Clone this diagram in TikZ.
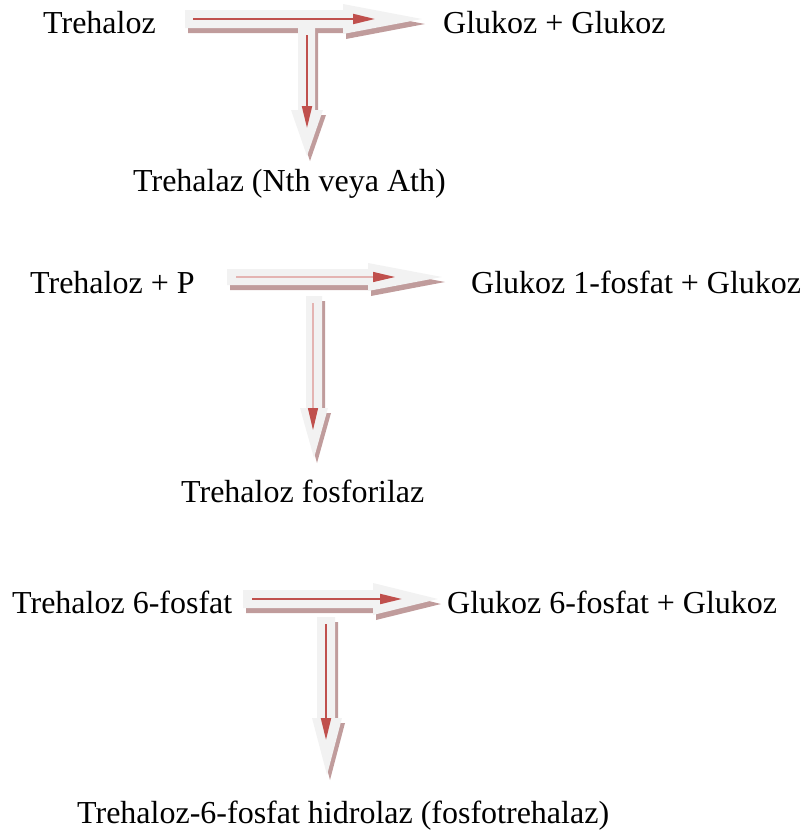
\documentclass[tikz,border=0pt]{standalone}
\usepackage{fontspec}
\setmainfont{Liberation Serif}
\usetikzlibrary{arrows.meta}
\definecolor{bodyc}{RGB}{242,242,242}
\definecolor{shadc}{RGB}{192,156,156}
\definecolor{redc}{RGB}{192,80,77}
\definecolor{pinkc}{RGB}{228,180,178}
\tikzset{
  lbl/.style={anchor=base west, inner sep=0pt, font=\fontsize{32}{38}\selectfont},
  bodyfill/.style={fill=bodyc},
  shadowfill/.style={fill=shadc, shift={(3,5)}},
  redarrow/.style={draw=redc, line width=2pt, -{Triangle[length=22pt,width=10pt]}},
  pinkarrow/.style={draw=pinkc, line width=1.2pt, -{Triangle[length=22pt,width=10pt,color=redc,fill=redc]}}
}
% horizontal block arrow: L, T, B, Hbase, HT, HB, tipx, tipy
\newcommand{\myHshape}[8]{(#1,#2) -- (#4,#2) -- (#4,#5) -- (#7,#8) -- (#4,#6) -- (#4,#3) -- (#1,#3) -- cycle}
% vertical block arrow: Lx, Rx, Top, Hbase, HL, HR, tipx, tipy
\newcommand{\myVshape}[8]{(#1,#3) -- (#2,#3) -- (#2,#4) -- (#6,#4) -- (#7,#8) -- (#5,#4) -- (#1,#4) -- cycle}
\begin{document}
\begin{tikzpicture}[x=1pt,y=-1pt]
\useasboundingbox (0,0) rectangle (806,833);
% ---- block arrows: shadows
\fill[shadowfill] \myHshape{185}{10}{28}{343}{4}{34}{422}{19};
\fill[shadowfill] \myVshape{298}{315}{20}{110}{291}{323}{307}{156};
\fill[shadowfill] \myHshape{227}{269}{285}{368}{263}{291}{442}{277};
\fill[shadowfill] \myVshape{306}{322}{296}{408}{300}{328}{314}{458};
\fill[shadowfill] \myHshape{243}{590}{608}{373}{583}{615}{438}{599};
\fill[shadowfill] \myVshape{317}{335}{617}{718}{312}{342}{327}{775};
% ---- block arrows: bodies
\fill[bodyfill] \myHshape{185}{10}{28}{343}{4}{34}{422}{19};
\fill[bodyfill] \myVshape{298}{315}{20}{110}{291}{323}{307}{156};
\fill[bodyfill] \myHshape{227}{269}{285}{368}{263}{291}{442}{277};
\fill[bodyfill] \myVshape{306}{322}{296}{408}{300}{328}{314}{458};
\fill[bodyfill] \myHshape{243}{590}{608}{373}{583}{615}{438}{599};
\fill[bodyfill] \myVshape{317}{335}{617}{718}{312}{342}{327}{775};
% ---- labels
\node[lbl] (s1) at (43,33) {Trehaloz};
\node[lbl] (p1) at (443,33) {Glukoz + Glukoz};
\node[lbl] (e1) at (133,191) {Trehalaz (Nth veya Ath)};
\node[lbl] (s2) at (30,293) {Trehaloz + P};
\node[lbl] (p2) at (471,293) {Glukoz 1-fosfat + Glukoz};
\node[lbl] (e2) at (181,502) {Trehaloz fosforilaz};
\node[lbl] (s3) at (12,613) {Trehaloz 6-fosfat};
\node[lbl] (p3) at (447,613) {Glukoz 6-fosfat + Glukoz};
\node[lbl] (e3) at (77,823) {Trehaloz-6-fosfat hidrolaz (fosfotrehalaz)};
% ---- red arrow end points
\coordinate (h1a) at (193,19);  \coordinate (h1b) at (375,19);
\coordinate (v1a) at (307,35);  \coordinate (v1b) at (307,128);
\coordinate (h2a) at (236,277); \coordinate (h2b) at (395,277);
\coordinate (v2a) at (313,303); \coordinate (v2b) at (313,430);
\coordinate (h3a) at (252,599); \coordinate (h3b) at (402,599);
\coordinate (v3a) at (326,624); \coordinate (v3b) at (326,740);
\draw[redarrow] (h1a) -- (h1b);
\draw[redarrow] (v1a) -- (v1b);
\draw[pinkarrow] (h2a) -- (h2b);
\draw[pinkarrow] (v2a) -- (v2b);
\draw[redarrow] (h3a) -- (h3b);
\draw[redarrow] (v3a) -- (v3b);
\end{tikzpicture}
\end{document}
